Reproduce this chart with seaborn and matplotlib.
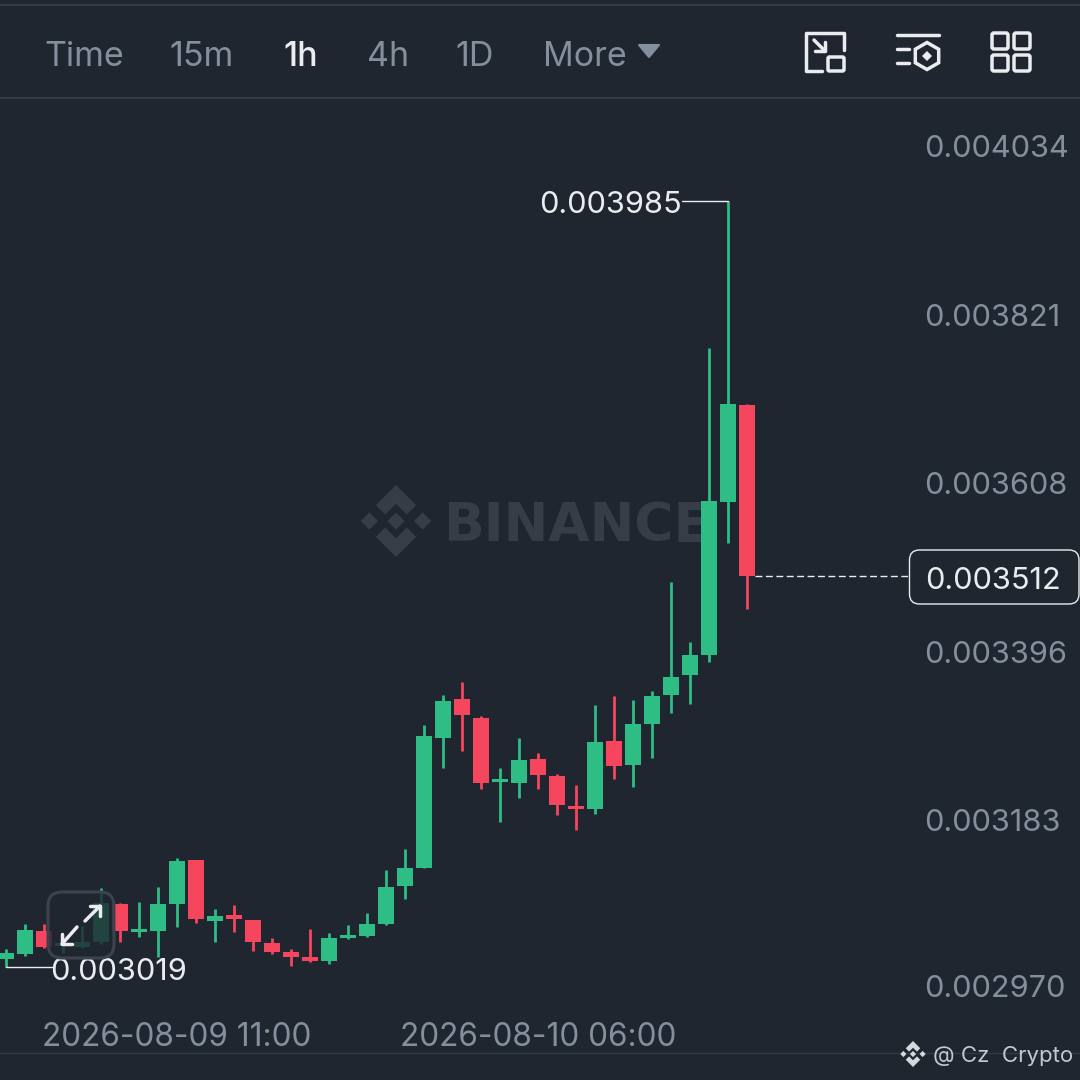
import numpy as np
import pandas as pd
import seaborn as sns
import matplotlib.pyplot as plt
from matplotlib.patches import FancyBboxPatch, Polygon
from matplotlib.transforms import ScaledTranslation

# hourly candles
open_ = [0.0030292, 0.0030355, 0.0030645, 0.0030456, 0.0030443, 0.0030506, 0.0030985, 0.0030632,
         0.0030645, 0.0030985, 0.0031540, 0.0030771, 0.0030846, 0.0030783, 0.0030493, 0.0030380,
         0.0030317, 0.0030266, 0.0030556, 0.0030582, 0.0030733, 0.0031212, 0.0031439, 0.0033078,
         0.0033570, 0.0033331, 0.0032524, 0.0032511, 0.0032814, 0.0032599, 0.0032221, 0.0032183,
         0.0033041, 0.0032738, 0.0033255, 0.0033621, 0.0033873, 0.0034125, 0.0036054, 0.0037278]
close = [0.0030367, 0.0030657, 0.0030443, 0.0030493, 0.0030506, 0.0030998, 0.0030645, 0.0030670,
         0.0030985, 0.0031527, 0.0030796, 0.0030834, 0.0030796, 0.0030506, 0.0030380, 0.0030317,
         0.0030266, 0.0030556, 0.0030594, 0.0030733, 0.0031200, 0.0031439, 0.0033104, 0.0033545,
         0.0033368, 0.0032511, 0.0032561, 0.0032801, 0.0032612, 0.0032234, 0.0032183, 0.0033028,
         0.0032725, 0.0033255, 0.0033608, 0.0033848, 0.0034125, 0.0036067, 0.0037290, 0.0035120]
high = [0.0030418, 0.0030733, 0.0030733, 0.0030594, 0.0030708, 0.0031187, 0.0030998, 0.0031010,
        0.0031200, 0.0031565, 0.0031540, 0.0030922, 0.0030973, 0.0030783, 0.0030556, 0.0030418,
        0.0030670, 0.0030619, 0.0030720, 0.0030872, 0.0031414, 0.0031679, 0.0033242, 0.0033621,
        0.0033785, 0.0033356, 0.0032700, 0.0033078, 0.0032889, 0.0032624, 0.0032486, 0.0033495,
        0.0033608, 0.0033558, 0.0033671, 0.0035046, 0.0034289, 0.0037996, 0.0039850, 0.0037290]
low = [0.0030191, 0.0030329, 0.0030430, 0.0030367, 0.0030430, 0.0030481, 0.0030506, 0.0030569,
       0.0030317, 0.0030695, 0.0030746, 0.0030506, 0.0030632, 0.0030393, 0.0030355, 0.0030203,
       0.0030254, 0.0030229, 0.0030544, 0.0030569, 0.0030720, 0.0031048, 0.0031439, 0.0032700,
       0.0032915, 0.0032435, 0.0032019, 0.0032322, 0.0032435, 0.0032107, 0.0031918, 0.0032120,
       0.0032561, 0.0032460, 0.0032826, 0.0033394, 0.0033507, 0.0034037, 0.0035537, 0.0034705]
first_hour = "2026-08-09 02:00"
date_ticks = ["2026-08-09 11:00", "2026-08-10 06:00"]
price_ticks = [0.004034, 0.003821, 0.003608, 0.003396, 0.003183, 0.002970]
intervals = ["Time", "15m", "1h", "4h", "1D", "More"]

BG = "#1f2630"
GREEN = "#2ebd85"
RED = "#f6465d"
GREY = "#848e9c"
WHITE = "#eaecef"
DIVIDER = "#333a45"
MARK = "#363d48"
PRICE_SIZE = 22.1

sns.set_theme(style="dark")
plt.rcParams["font.family"] = ["Inter", "DejaVu Sans"]

hours = pd.date_range(first_hour, periods=len(close), freq="h")
df = pd.DataFrame({"idx": range(len(close)), "open": open_, "close": close, "high": high, "low": low})
df["bottom"] = df[["open", "close"]].min(axis=1)
df["height"] = (df["open"] - df["close"]).abs()
up = df[df["close"] >= df["open"]]
down = df[df["close"] < df["open"]]

fig = plt.figure(figsize=(10.8, 10.8), dpi=100, facecolor=BG)

# layer behind the candles, in pixels of the picture
back = fig.add_axes([0, 0, 1, 1], zorder=0)
back.set_xlim(0, 1080)
back.set_ylim(1080, 0)
back.axis("off")

# candles
ax = fig.add_axes([0, 68 / 1080, 908 / 1080, 912 / 1080], zorder=1)
ax.patch.set_alpha(0)
for part, color in [(up, GREEN), (down, RED)]:
    ax.vlines(part["idx"], part["low"], part["high"], color=color, lw=2, zorder=2)
    sns.barplot(data=part, x="idx", y="height", bottom=part["bottom"].values, orient="x",
                native_scale=True, width=0.84, color=color, saturation=1, errorbar=None,
                linewidth=0, zorder=3, ax=ax)

ax.set_xlim(-6 / 19, 902 / 19)
ax.set_ylim(0.003985 - (1012 - 201) * 1.261e-6, 0.003985 + (201 - 100) * 1.261e-6)
ax.set_xlabel("")
ax.set_ylabel("")
ax.grid(False)
sns.despine(ax=ax, left=True, bottom=True)

ax.set_xticks([hours.get_loc(pd.Timestamp(d)) for d in date_ticks])
ax.set_xticklabels(date_ticks)
ax.yaxis.tick_right()
ax.set_yticks(price_ticks)
ax.set_yticklabels([f"{p:.6f}" for p in price_ticks])
ax.tick_params(axis="x", length=0, pad=7, labelsize=22.7, labelcolor=GREY)
ax.tick_params(axis="y", length=0, pad=11.5, labelsize=PRICE_SIZE, labelcolor=GREY)

# price labels sit above their level in this app
for label, shift in zip(ax.get_yticklabels(), [16, 16, 17, 16, 17, 20]):
    label.set_transform(label.get_transform() + ScaledTranslation(0, shift / 100, fig.dpi_scale_trans))

# high, low and last price
i_high = int(df["high"].idxmax())
i_low = int(df["low"].idxmin())
ax.plot([i_high - 46 / 19, i_high], [high[i_high], high[i_high]], color=WHITE, lw=1, zorder=2)
ax.plot([i_low, i_low + 46 / 19], [low[i_low], low[i_low]], color=WHITE, lw=1, zorder=2)
ax.annotate(f"{high[i_high]:.6f}", xy=(i_high, high[i_high]), xytext=(-46, -1), textcoords="offset pixels",
            ha="right", va="center_baseline", color=WHITE, fontsize=PRICE_SIZE)
ax.annotate(f"{low[i_low]:.6f}", xy=(i_low, low[i_low]), xytext=(44, -2), textcoords="offset pixels",
            ha="left", va="center_baseline", color=WHITE, fontsize=PRICE_SIZE, zorder=6)
ax.plot([len(close) - 1 + 0.42, 902 / 19], [close[-1], close[-1]], color=WHITE, lw=1, ls=(0, (5, 2.5)), zorder=2)

# layer above the candles
front = fig.add_axes([0, 0, 1, 1], zorder=2)
front.set_xlim(0, 1080)
front.set_ylim(1080, 0)
front.axis("off")


def logo(target, cx, cy, r, color):
    shapes = [
        [(0, 0.24), (0.24, 0), (0, -0.24), (-0.24, 0)],
        [(-0.74, 0.24), (-0.5, 0), (-0.74, -0.24), (-0.98, 0)],
        [(0.74, 0.24), (0.98, 0), (0.74, -0.24), (0.5, 0)],
        [(0, 1), (0.56, 0.44), (0.3, 0.18), (0, 0.48), (-0.3, 0.18), (-0.56, 0.44)],
        [(0, -1), (0.56, -0.44), (0.3, -0.18), (0, -0.48), (-0.3, -0.18), (-0.56, -0.44)],
    ]
    for pts in shapes:
        target.add_patch(Polygon([(cx + r * a, cy - r * b) for a, b in pts], closed=True, fc=color, ec="none"))


def round_box(target, x0, y0, x1, y1, rad, **kw):
    target.add_patch(FancyBboxPatch((x0 + rad, y0 + rad), x1 - x0 - 2 * rad, y1 - y0 - 2 * rad,
                                    boxstyle=f"round,pad={rad},rounding_size={rad}", **kw))


def stroke(target, xs, ys, color=WHITE, lw=2.5):
    target.plot(xs, ys, color=color, lw=lw, solid_capstyle="round", solid_joinstyle="round")


# watermark
logo(back, 396, 521, 36, MARK)
back.text(443, 521, "BINANCE", color=MARK, fontsize=38.5, fontweight="bold", va="center_baseline", ha="left",
          family=["DejaVu Sans"])

# header
back.axhline(5, color=DIVIDER, lw=1.5)
back.axhline(98, color=DIVIDER, lw=1.5)
back.axhline(1053, color=DIVIDER, lw=1)
for name, x in zip(intervals, [44, 169, 283, 367, 455, 543]):
    back.text(x, 54, name, color=WHITE if name == "1h" else GREY, fontsize=24.5,
              fontweight="medium" if name == "1h" else "normal", va="center_baseline", ha="left")
back.add_patch(Polygon([(639, 45), (659, 45), (649, 57)], closed=True, fc=GREY, ec=GREY, lw=1.5, joinstyle="round"))

# header icons
stroke(back, [822, 806, 806, 844, 844], [71, 71, 33, 33, 50])
round_box(back, 828, 57, 844, 71, 1.5, fc="none", ec=WHITE, lw=2.5)
stroke(back, [814, 825], [40, 51])
stroke(back, [815, 825, 825], [51, 51, 42])
stroke(back, [897, 939], [35, 35])
stroke(back, [897, 909], [49, 49])
stroke(back, [897, 909], [63, 63])
angles = np.deg2rad(np.arange(90, 450, 60))
back.add_patch(Polygon(np.c_[927 + 13.5 * np.cos(angles), 56 + 13.5 * np.sin(angles)], closed=True, fc="none", ec=WHITE, lw=2.5))
back.add_patch(Polygon([(927, 51), (932, 56), (927, 61), (922, 56)], closed=True, fc=WHITE, ec="none"))
for x0 in (992, 1014):
    for y0 in (33, 55):
        round_box(back, x0, y0, x0 + 16, y0 + 16, 2, fc="none", ec=WHITE, lw=2.5)

# last price box
round_box(front, 909.5, 550, 1079, 604, 10, fc=BG, ec=WHITE, lw=1)
front.text(925, 578, f"{close[-1]:.6f}", color=WHITE, fontsize=PRICE_SIZE, va="center_baseline", ha="left")

# expand button over the first candles
round_box(front, 48, 892, 114, 958, 14, fc=BG, alpha=0.8, ec="none")
round_box(front, 48, 892, 114, 958, 14, fc="none", ec="#3d434e", lw=2.2)
stroke(front, [62, 77], [944, 927])
stroke(front, [62, 62, 72], [934, 944, 944])
stroke(front, [85, 100], [921, 906])
stroke(front, [90, 100, 100], [906, 906, 916])

# credit
logo(front, 913, 1054, 13, "#d5d8dc")
front.text(933, 1054, "@ Cz  Crypto", color="#c4c8ce", fontsize=16, va="center_baseline", ha="left")

fig.savefig("out.png", dpi=100, facecolor=BG)
